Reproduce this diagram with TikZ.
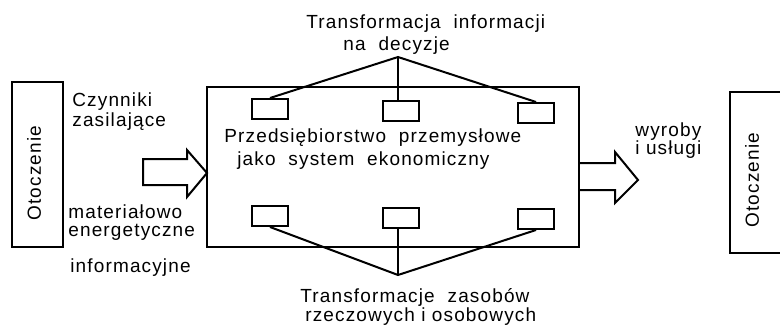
\documentclass[tikz,border=0pt]{standalone}
\usepackage{fontspec}
\setmainfont[LetterSpace=6]{Liberation Sans}
\usetikzlibrary{positioning}

\begin{document}
\begin{tikzpicture}[
    x=0.5pt, y=-0.5pt,
    frame/.style={draw, line width=1pt},
    unit/.style={draw, line width=1pt, rectangle, minimum width=18pt, minimum height=10pt, inner sep=0pt},
    link/.style={draw, line width=1pt},
    flow/.style={draw, line width=1pt, line join=miter},
    lbl/.style={font=\fontsize{9.5}{11}\selectfont, inner sep=0pt}
]
\useasboundingbox (0,0) rectangle (780,326);

% ============================================================
% ENVIRONMENT (left and right)
% ============================================================
\draw[frame] (12,82) rectangle (63,247);
\node[lbl, rotate=90] (envleft) at (34,173) {Otoczenie};

\draw[frame] (730,92) rectangle (783,253);
\node[lbl, rotate=90] (envright) at (752,180) {Otoczenie};

% ============================================================
% ENTERPRISE
% Rect: (207,87) to (579,247)
% ============================================================
\draw[frame] (207,87) rectangle (579,247);
\node[lbl, anchor=west] (firm1) at (224,138) {Przedsiębiorstwo \ przemysłowe};
\node[lbl, anchor=west] (firm2) at (237,161) {jako \ system \ ekonomiczny};

% decision units (top row)
\node[unit] (t1) at (270,109) {};
\node[unit] (t2) at (401,111) {};
\node[unit] (t3) at (536,113) {};

% resource units (bottom row)
\node[unit] (b1) at (270,216) {};
\node[unit] (b2) at (401,218) {};
\node[unit] (b3) at (536,219) {};

% ============================================================
% TRANSFORMATIONS
% ============================================================
\coordinate (topapex) at (398,57);
\draw[link] (t1.north) -- (topapex) -- (t3.north);
\draw[link] (topapex) -- (topapex |- t2.north);
\node[lbl, anchor=west] (info1) at (306,24) {Transformacja \ informacji};
\node[lbl, anchor=west] (info2) at (343,46) {na \ decyzje};

\coordinate (botapex) at (398,275);
\draw[link] (b1.south) -- (botapex) -- (b3.south);
\draw[link] (botapex) -- (botapex |- b2.south);
\node[lbl, anchor=west] (res1) at (300,297) {Transformacje \ zasobów};
\node[lbl, anchor=west] (res2) at (305,317) {rzeczowych i osobowych};

% ============================================================
% INPUT ARROW
% ============================================================
\draw[flow] (143,159) -- (187,159) -- (187,150) -- (207,173)
    -- (187,197) -- (187,185) -- (143,185) -- cycle;
\node[lbl, anchor=west] (in1) at (72,102) {Czynniki};
\node[lbl, anchor=west] (in2) at (72,122) {zasilające};
\node[lbl, anchor=west] (in3) at (68,212) {materiałowo};
\node[lbl, anchor=west] (in4) at (68,232) {energetyczne};
\node[lbl, anchor=west] (in5) at (70,268) {informacyjne};

% ============================================================
% OUTPUT ARROW
% ============================================================
\draw[flow] (579,163) -- (615,163) -- (615,152) -- (638,180)
    -- (615,203) -- (615,190) -- (579,190);
\node[lbl, anchor=west] (out1) at (635,132) {wyroby};
\node[lbl, anchor=west] (out2) at (635,150) {i usługi};

\end{tikzpicture}
\end{document}
